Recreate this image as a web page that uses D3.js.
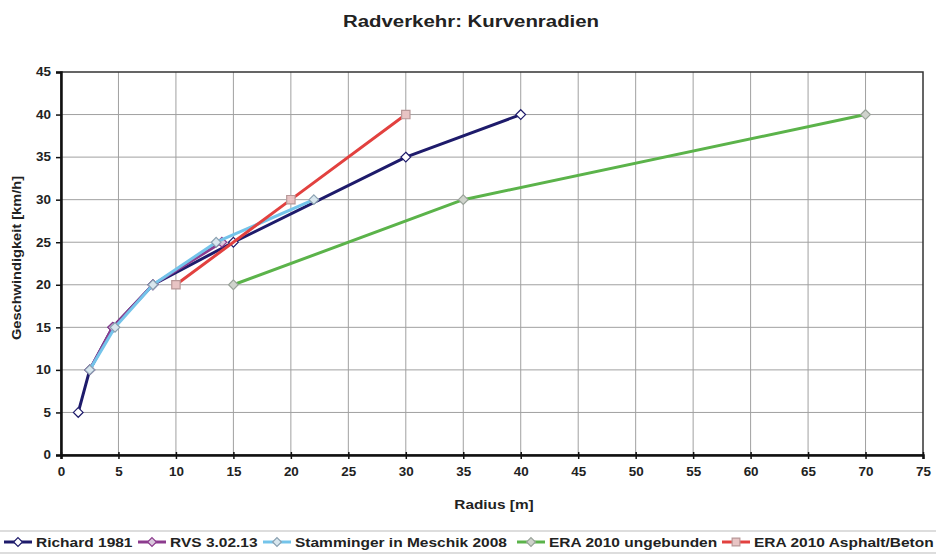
<!DOCTYPE html>
<html>
<head>
<meta charset="utf-8">
<script src="https://cdn.jsdelivr.net/npm/d3@7"></script>
<style>
  body { margin: 0; background: #fff; }
  text { font-family: "Liberation Sans", Arial, sans-serif; font-weight: bold; }
</style>
</head>
<body>
<svg id="chart"></svg>
<script>
// chart values
const seriesNames = ['Richard 1981', 'RVS 3.02.13', 'Stamminger in Meschik 2008', 'ERA 2010 ungebunden', 'ERA 2010 Asphalt/Beton'];
const richard = [[1.5, 5], [2.5, 10], [4.5, 15], [8, 20], [15, 25], [30, 35], [40, 40]];
const rvs = [[2.5, 10], [4.5, 15], [8, 20], [14, 25]];
const stamminger = [[2.5, 10], [4.7, 15], [8, 20], [13.5, 25], [22, 30]];
const eraUngebunden = [[15, 20], [35, 30], [70, 40]];
const eraAsphalt = [[10, 20], [20, 30], [30, 40]];
const xTicks = d3.range(0, 76, 5);
const yTicks = d3.range(0, 46, 5);

const colors = ['#1e1b6b', '#8c3b8e', '#74c4ea', '#5bb34a', '#e2413f'];
const markers = ['diamond', 'diamond', 'diamond', 'diamond', 'square'];
const markerFill = ['#ffffff', '#d9c8dc', '#d8e6ee', '#cfd3cc', '#e8c4c4'];
const markerStroke = ['#1e1b6b', '#8c3b8e', '#8aa0b0', '#9aa39a', '#b89898'];
const allSeries = [richard, rvs, stamminger, eraUngebunden, eraAsphalt];

const W = 936, H = 554;
const margin = {top: 72, right: 13, bottom: 99, left: 61};
const width = W - margin.left - margin.right;
const height = H - margin.top - margin.bottom;

const svg = d3.select('#chart').attr('width', W).attr('height', H);

// text in the source is a bit wider than the font, stretch it horizontally
function label(parent, tx, ty, str, size, sx, rotate) {
  const t = parent.append('g')
      .attr('transform', 'translate(' + tx + ',' + ty + ')' + (rotate ? ' rotate(' + rotate + ')' : '') + ' scale(' + sx + ',1)')
      .append('text')
      .attr('font-size', size)
      .attr('fill', '#222')
      .text(str);
  return t;
}

label(svg, 471, 27, 'Radverkehr: Kurvenradien', 17, 1.2).attr('text-anchor', 'middle');

const g = svg.append('g')
    .attr('transform', 'translate(' + margin.left + ',' + margin.top + ')');

const x = d3.scaleLinear().domain([0, 75]).range([0, width]);
const y = d3.scaleLinear().domain([0, 45]).range([height, 0]);

// grid
g.append('g').selectAll('line.vg')
    .data(xTicks.slice(1, -1))
    .enter().append('line')
    .attr('x1', d => x(d)).attr('x2', d => x(d))
    .attr('y1', 0).attr('y2', height)
    .attr('stroke', '#a0a0a0').attr('stroke-width', 1);

g.append('g').selectAll('line.hg')
    .data(yTicks.slice(1, -1))
    .enter().append('line')
    .attr('x1', 0).attr('x2', width)
    .attr('y1', d => y(d)).attr('y2', d => y(d))
    .attr('stroke', '#a0a0a0').attr('stroke-width', 1);

// plot border
g.append('rect')
    .attr('width', width).attr('height', height)
    .attr('fill', 'none').attr('stroke', '#333').attr('stroke-width', 1.5);

// axes
const xAxis = g.append('g')
    .attr('transform', 'translate(0,' + height + ')')
    .call(d3.axisBottom(x).tickValues(xTicks).tickSize(4).tickPadding(8));
const yAxis = g.append('g')
    .call(d3.axisLeft(y).tickValues(yTicks).tickSize(5).tickPadding(4));

[xAxis, yAxis].forEach(a => {
  a.select('.domain').attr('stroke', '#111').attr('stroke-width', 2.5);
  a.selectAll('.tick line').attr('stroke', '#111').attr('stroke-width', 1.5);
  a.selectAll('.tick text').attr('font-size', 12).attr('fill', '#222')
      .attr('transform', 'scale(1.12,1)')
      .style('font-family', '"Liberation Sans", Arial, sans-serif').style('font-weight', 'bold');
});
xAxis.selectAll('.tick line').attr('y1', -3);

label(svg, margin.left + width / 2 + 2, 509, 'Radius [m]', 12, 1.28).attr('text-anchor', 'middle');
label(svg, 21, 258, 'Geschwindigkeit [km/h]', 12, 1.22, -90).attr('text-anchor', 'middle');

const line = d3.line().x(d => x(d[0])).y(d => y(d[1]));

function marker(sel, type, size) {
  return sel.append('path')
      .attr('d', d3.symbol().type(type === 'square' ? d3.symbolSquare : d3.symbolDiamond2).size(size));
}

allSeries.forEach((data, i) => {
  const s = g.append('g');
  s.append('path')
      .datum(data)
      .attr('d', line)
      .attr('fill', 'none')
      .attr('stroke', colors[i])
      .attr('stroke-width', 3)
      .attr('stroke-linejoin', 'round');

  s.selectAll('g.pt')
      .data(data)
      .enter().append('g')
      .attr('transform', d => 'translate(' + x(d[0]) + ',' + y(d[1]) + ')')
      .each(function() {
        marker(d3.select(this), markers[i], markers[i] === 'square' ? 70 : 60)
            .attr('fill', markerFill[i])
            .attr('stroke', markerStroke[i])
            .attr('stroke-width', 1.2);
      });
});

// legend
const legend = svg.append('g');
legend.append('line').attr('x1', 0).attr('x2', W).attr('y1', 531).attr('y2', 531).attr('stroke', '#bbb');
legend.append('line').attr('x1', 0).attr('x2', W).attr('y1', 553).attr('y2', 553).attr('stroke', '#bbb');

const legendX = [4, 138, 263, 517, 722];
seriesNames.forEach((name, i) => {
  const it = legend.append('g').attr('transform', 'translate(' + legendX[i] + ',542)');
  it.append('line').attr('x1', 0).attr('x2', 28).attr('stroke', colors[i]).attr('stroke-width', 3);
  marker(it.append('g').attr('transform', 'translate(14,0)'), markers[i], markers[i] === 'square' ? 60 : 50)
      .attr('fill', markerFill[i]).attr('stroke', markerStroke[i]).attr('stroke-width', 1.2);
  label(it, 32, 4.5, name, 12.5, 1.24);
});
</script>
</body>
</html>
